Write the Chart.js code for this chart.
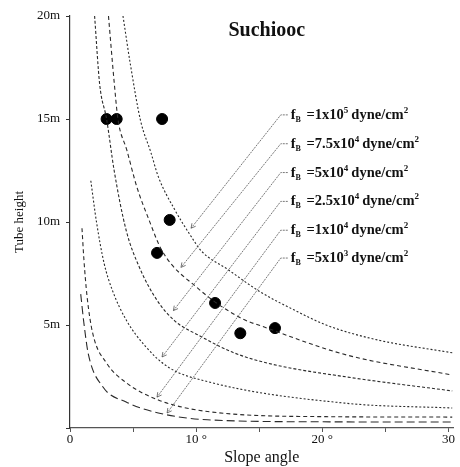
<!DOCTYPE html>
<html>
<head>
<meta charset="utf-8">
<script src="https://cdn.jsdelivr.net/npm/chart.js@4.4.1/dist/chart.umd.min.js"></script>
<style>
  html, body { margin: 0; padding: 0; background: #fff; }
  #wrap { width: 460px; height: 467px; position: relative; }
</style>
</head>
<body>
<div id="wrap"><canvas id="chartSuchiooc"></canvas></div>
<script>
// =========================
// DATA (slope angle in degrees, tube height in m)
// =========================
const angleFb1e5 = [4.2, 4.8, 5.6, 6.4, 7.0, 8.3, 9.6, 10.4, 12.5, 15.1, 17.7, 20.3, 24.2, 30.3];
const heightFb1e5 = [20, 17.6, 14.9, 13.4, 12.2, 10.6, 9.3, 8.6, 7.7, 6.6, 5.75, 5.0, 4.3, 3.65];

const angleFb75e3 = [3.05, 3.5, 3.8, 4.5, 5.3, 6.2, 7.3, 10.1, 13.5, 15.4, 21.9, 30.3];
const heightFb75e3 = [20, 16.8, 15.0, 13.5, 11.7, 10.2, 8.6, 6.8, 5.35, 4.9, 3.55, 2.57];

const angleFb5e4 = [1.95, 2.35, 2.9, 3.5, 4.45, 5.5, 6.9, 8.3, 10.2, 13, 16, 21.9, 30.3];
const heightFb5e4 = [20, 16.7, 15, 12.5, 9.6, 7.8, 6.2, 5.2, 4.5, 3.65, 3.1, 2.48, 1.8];

const angleFb25e3 = [1.65, 2.1, 2.7, 3.35, 4.45, 6.0, 7.8, 10.9, 21.9, 30.3];
const heightFb25e3 = [12.0, 10.0, 8.0, 6.7, 5.25, 3.95, 2.95, 2.25, 1.2, 0.97];

const angleFb1e4 = [0.95, 1.1, 1.35, 1.8, 2.9, 4.45, 7.0, 10.9, 20.3, 30.3];
const heightFb1e4 = [9.7, 8.2, 6.4, 4.6, 3.15, 2.2, 1.36, 0.8, 0.55, 0.53];

const angleFb5e3 = [0.85, 1.1, 1.45, 2.6, 4.45, 7.0, 10.9, 20, 30.3];
const heightFb5e3 = [6.5, 5.1, 3.6, 2.0, 1.26, 0.73, 0.4, 0.3, 0.29];

// observed sites
const siteAngles = [2.9, 3.7, 7.3, 7.9, 6.9, 11.5, 13.5, 16.25];
const siteHeights = [15, 15, 15, 10.1, 8.5, 6.07, 4.6, 4.85];

// legend labels f_B = m x 10^e dyne/cm2
const fbMantissa = ["1", "7.5", "5", "2.5", "1", "5"];
const fbExponent = ["5", "4", "4", "4", "4", "3"];

const xTickLabels = { 0: "0", 10: "10 °", 20: "20 °", 30: "30" };
const yTickLabels = { 5: "5m", 10: "10m", 15: "15m", 20: "20m" };

// where the labels sit and where their leader arrows point (data units)
const labelAngle = 17.5;
const labelHeights = [15.2, 13.8, 12.4, 11.0, 9.6, 8.25];
const arrowAngles = [9.6, 8.8, 8.2, 7.3, 6.9, 7.7];
const arrowHeights = [9.7, 7.8, 5.7, 3.45, 1.5, 0.73];

const SERIF = '"Liberation Serif", "DejaVu Serif", serif';

function pairs(xs, ys) {
    return xs.map((x, i) => ({ x: x, y: ys[i] }));
}

function curve(xs, ys, dash) {
    return {
        data: pairs(xs, ys),
        showLine: true,
        borderColor: "#2a2a2a",
        borderWidth: 1.1,
        borderDash: dash,
        pointRadius: 0,
        cubicInterpolationMode: "monotone",
        fill: false
    };
}

// =========================
// ANNOTATIONS (title, f_B labels, leaders)
// =========================
const annotations = {
    id: "annotations",
    afterDatasetsDraw(chart) {
        const ctx = chart.ctx;
        const xs = chart.scales.x;
        const ys = chart.scales.y;
        ctx.save();
        ctx.fillStyle = "#111";
        ctx.strokeStyle = "#555";

        // title
        ctx.font = "bold 20px " + SERIF;
        ctx.textAlign = "center";
        ctx.textBaseline = "middle";
        ctx.fillText("Suchiooc", xs.getPixelForValue(15.6), ys.getPixelForValue(19.3));

        ctx.textAlign = "left";
        ctx.textBaseline = "alphabetic";

        labelHeights.forEach((h, i) => {
            const lx = xs.getPixelForValue(labelAngle);
            const ly = ys.getPixelForValue(h);
            const sx = lx - 10;
            const tx = xs.getPixelForValue(arrowAngles[i]);
            const ty = ys.getPixelForValue(arrowHeights[i]);

            // leader
            ctx.lineWidth = 0.8;
            ctx.setLineDash([2, 1]);
            ctx.beginPath();
            ctx.moveTo(sx + 7, ly);
            ctx.lineTo(sx, ly);
            ctx.lineTo(tx, ty);
            ctx.stroke();
            ctx.setLineDash([]);

            // arrow head
            const ang = Math.atan2(ty - ly, tx - sx);
            ctx.beginPath();
            ctx.moveTo(tx - 5 * Math.cos(ang - 0.5), ty - 5 * Math.sin(ang - 0.5));
            ctx.lineTo(tx, ty);
            ctx.lineTo(tx - 5 * Math.cos(ang + 0.5), ty - 5 * Math.sin(ang + 0.5));
            ctx.stroke();

            // label text
            let x = lx;
            const base = ly + 4;
            ctx.font = "bold 14.5px " + SERIF;
            ctx.fillText("f", x, base);
            x += ctx.measureText("f").width;
            ctx.font = "bold 8px " + SERIF;
            ctx.fillText("B", x, base + 3);
            x += ctx.measureText("B").width + 2;
            ctx.font = "bold 14.5px " + SERIF;
            const t1 = " =" + fbMantissa[i] + "x10";
            ctx.fillText(t1, x, base);
            x += ctx.measureText(t1).width;
            ctx.font = "bold 9px " + SERIF;
            ctx.fillText(fbExponent[i], x, base - 6);
            x += ctx.measureText(fbExponent[i]).width + 3;
            ctx.font = "bold 14.5px " + SERIF;
            ctx.fillText("dyne/cm", x, base);
            x += ctx.measureText("dyne/cm").width;
            ctx.font = "bold 9px " + SERIF;
            ctx.fillText("2", x, base - 6);
        });
        ctx.restore();
    }
};

// =========================
// CHART
// =========================
document.addEventListener("DOMContentLoaded", function () {

    const ctx = document.getElementById("chartSuchiooc");

    new Chart(ctx, {
        type: "scatter",
        data: {
            datasets: [
                curve(angleFb1e5, heightFb1e5, [2, 2]),
                curve(angleFb75e3, heightFb75e3, [4, 3]),
                curve(angleFb5e4, heightFb5e4, [3, 2]),
                curve(angleFb25e3, heightFb25e3, [2, 2]),
                curve(angleFb1e4, heightFb1e4, [4, 3]),
                curve(angleFb5e3, heightFb5e3, [8, 4]),
                {
                    data: pairs(siteAngles, siteHeights),
                    pointRadius: 5.5,
                    pointBackgroundColor: "#000",
                    pointBorderColor: "#000",
                    showLine: false
                }
            ]
        },
        options: {
            responsive: true,
            maintainAspectRatio: false,
            animation: false,
            layout: { padding: { left: 0, top: 16, right: 1, bottom: 0 } },
            plugins: {
                legend: { display: false },
                tooltip: { enabled: false }
            },
            scales: {
                x: {
                    type: "linear",
                    min: 0,
                    max: 30.4,
                    afterBuildTicks: (axis) => {
                        axis.ticks = [0, 5, 10, 15, 20, 25, 30].map(v => ({ value: v }));
                    },
                    afterFit: (axis) => { axis.height = 39; },
                    ticks: {
                        autoSkip: false,
                        maxRotation: 0,
                        padding: 0,
                        color: "#111",
                        font: { family: SERIF, size: 13 },
                        callback: (v) => xTickLabels[v] || ""
                    },
                    grid: { drawOnChartArea: false, tickLength: 4, color: "#555" },
                    border: { color: "#555", width: 1.2 },
                    title: {
                        display: true,
                        text: "Slope angle",
                        color: "#111",
                        font: { family: SERIF, size: 16 },
                        padding: { top: 0, bottom: 0 }
                    }
                },
                y: {
                    type: "linear",
                    min: 0,
                    max: 20,
                    afterBuildTicks: (axis) => {
                        axis.ticks = [0, 5, 10, 15, 20].map(v => ({ value: v }));
                    },
                    afterFit: (axis) => { axis.width = 70; },
                    ticks: {
                        padding: 6,
                        color: "#111",
                        font: { family: SERIF, size: 13 },
                        callback: (v) => yTickLabels[v] || ""
                    },
                    grid: { drawOnChartArea: false, tickLength: 4, color: "#333" },
                    border: { color: "#333", width: 1.2 },
                    title: {
                        display: true,
                        text: "Tube height",
                        color: "#111",
                        font: { family: SERIF, size: 13 },
                        padding: { top: 12, bottom: 0 }
                    }
                }
            }
        },
        plugins: [annotations]
    });

});
</script>
</body>
</html>
